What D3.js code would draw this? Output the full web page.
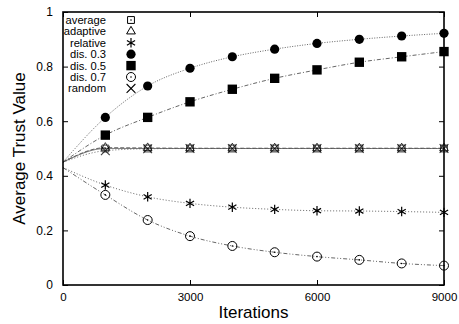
<!DOCTYPE html>
<html>
<head>
<meta charset="utf-8">
<script src="https://cdn.jsdelivr.net/npm/d3@7"></script>
<style>
body { margin: 0; background: #fff; }
text { font-family: "Liberation Sans", Arial, sans-serif; }
</style>
</head>
<body>
<svg width="459" height="324"></svg>
<script>
var svg = d3.select("svg"),
    width = +svg.attr("width"),
    height = +svg.attr("height");

// data
var iterations = [0, 1000, 2000, 3000, 4000, 5000, 6000, 7000, 8000, 9000];
var average  = [0.45, 0.500, 0.500, 0.500, 0.500, 0.500, 0.500, 0.500, 0.500, 0.500];
var adaptive = [0.45, 0.503, 0.502, 0.501, 0.501, 0.501, 0.501, 0.501, 0.501, 0.501];
var relative = [0.43, 0.366, 0.323, 0.299, 0.285, 0.277, 0.272, 0.271, 0.269, 0.266];
var dis03    = [0.45, 0.614, 0.729, 0.794, 0.836, 0.864, 0.885, 0.900, 0.912, 0.922];
var dis05    = [0.45, 0.549, 0.614, 0.671, 0.717, 0.757, 0.788, 0.816, 0.836, 0.855];
var dis07    = [0.43, 0.330, 0.238, 0.179, 0.143, 0.120, 0.104, 0.092, 0.079, 0.071];
var random   = [0.45, 0.492, 0.499, 0.500, 0.500, 0.500, 0.500, 0.500, 0.500, 0.500];

var xTicks = [0, 3000, 6000, 9000];
var yTicks = [0, 0.2, 0.4, 0.6, 0.8, 1];

var series = [
  {name: "average",  values: average,  marker: "avg",      dash: "1,0"},
  {name: "adaptive", values: adaptive, marker: "triangle", dash: "4,2"},
  {name: "relative", values: relative, marker: "asterisk", dash: "1,2"},
  {name: "dis. 0.3", values: dis03,    marker: "fcircle",  dash: "1,1.5"},
  {name: "dis. 0.5", values: dis05,    marker: "fsquare",  dash: "4,2,1,2"},
  {name: "dis. 0.7", values: dis07,    marker: "ocircle",  dash: "4,2,1,2,1,2"},
  {name: "random",   values: random,   marker: "times",    dash: "1,2"}
];

var pLeft = 63, pRight = 444, pTop = 12, pBottom = 285;

var x = d3.scaleLinear().domain([0, 9000]).range([pLeft, pRight]);
var y = d3.scaleLinear().domain([0, 1]).range([pBottom, pTop]);

function drawMarker(g, type) {
  if (type == "fcircle") {
    g.append("circle").attr("r", 4.6).attr("fill", "#000");
  } else if (type == "ocircle") {
    g.append("circle").attr("r", 4.5).attr("fill", "none").attr("stroke", "#000").attr("stroke-width", 1);
    g.append("circle").attr("r", 0.8).attr("fill", "#000");
  } else if (type == "fsquare") {
    g.append("path").attr("d", d3.symbol(d3.symbolSquare, 88)()).attr("fill", "#000");
  } else if (type == "avg") {
    g.append("path").attr("d", d3.symbol(d3.symbolSquare2, 60)()).attr("fill", "none").attr("stroke", "#000").attr("stroke-width", 1);
    g.append("circle").attr("r", 0.8).attr("fill", "#000");
  } else if (type == "triangle") {
    g.append("path").attr("d", d3.symbol(d3.symbolTriangle2, 55)()).attr("fill", "none").attr("stroke", "#000").attr("stroke-width", 1);
  } else if (type == "asterisk") {
    g.append("path").attr("d", d3.symbol(d3.symbolAsterisk, 62)()).attr("fill", "none").attr("stroke", "#000").attr("stroke-width", 1.2);
  } else if (type == "times") {
    g.append("path").attr("d", d3.symbol(d3.symbolTimes, 52)()).attr("fill", "none").attr("stroke", "#000").attr("stroke-width", 1.1);
  }
}

var line = d3.line()
  .x(function(d, i) { return x(iterations[i]); })
  .y(function(d) { return y(d); })
  .curve(d3.curveMonotoneX);

// lines
svg.append("g").selectAll("path")
  .data(series)
  .enter().append("path")
    .attr("d", function(d) { return line(d.values); })
    .attr("fill", "none")
    .attr("stroke", "#555")
    .attr("stroke-width", 0.9)
    .attr("stroke-dasharray", function(d) { return d.dash; });

// markers (skip x = 0)
series.forEach(function(s) {
  s.values.forEach(function(v, i) {
    if (i == 0) return;
    var g = svg.append("g")
      .attr("transform", "translate(" + x(iterations[i]) + "," + y(v) + ")")
      .attr("opacity", (s.marker == "avg" || s.marker == "triangle" || s.marker == "times") ? 0.75 : 1);
    drawMarker(g, s.marker);
  });
});

// axes, ticks pointing inward
svg.append("g")
  .attr("transform", "translate(0," + pBottom + ")")
  .call(d3.axisBottom(x).tickValues(xTicks).tickSize(-5).tickPadding(8).tickFormat(d3.format("d")))
  .call(function(g) { g.select(".domain").remove(); })
  .selectAll("text").attr("font-size", 11.5).attr("fill", "#000");

svg.append("g")
  .attr("transform", "translate(" + pLeft + ",0)")
  .call(d3.axisLeft(y).tickValues(yTicks).tickSize(-5).tickPadding(10).tickFormat(function(d) { return d3.format("")(d); }))
  .call(function(g) { g.select(".domain").remove(); })
  .selectAll("text").attr("font-size", 12).attr("fill", "#000");

svg.append("g")
  .attr("transform", "translate(0," + pTop + ")")
  .call(d3.axisTop(x).tickValues(xTicks).tickSize(-5).tickFormat(""))
  .call(function(g) { g.select(".domain").remove(); });

svg.append("g")
  .attr("transform", "translate(" + pRight + ",0)")
  .call(d3.axisRight(y).tickValues(yTicks).tickSize(-5).tickFormat(""))
  .call(function(g) { g.select(".domain").remove(); });

svg.selectAll(".tick line").attr("stroke", "#000").attr("stroke-width", 1);

// frame
svg.append("rect")
  .attr("x", pLeft).attr("y", pTop)
  .attr("width", pRight - pLeft).attr("height", pBottom - pTop)
  .attr("fill", "none").attr("stroke", "#000").attr("stroke-width", 1.6);

// legend
var legend = svg.append("g").attr("class", "legend");
series.forEach(function(s, i) {
  var ly = 20 + i * 11.4;
  legend.append("text")
    .attr("x", 106).attr("y", ly)
    .attr("dy", "0.35em")
    .attr("text-anchor", "end")
    .attr("font-size", 11.2)
    .text(s.name);
  var g = legend.append("g").attr("transform", "translate(131," + ly + ")");
  drawMarker(g, s.marker);
});

// axis titles
svg.append("text")
  .attr("x", (pLeft + pRight) / 2).attr("y", 318)
  .attr("text-anchor", "middle")
  .attr("font-size", 17)
  .text("Iterations");

svg.append("text")
  .attr("transform", "translate(25," + ((pTop + pBottom) / 2) + ") rotate(-90)")
  .attr("text-anchor", "middle")
  .attr("font-size", 17)
  .text("Average Trust Value");
</script>
</body>
</html>
